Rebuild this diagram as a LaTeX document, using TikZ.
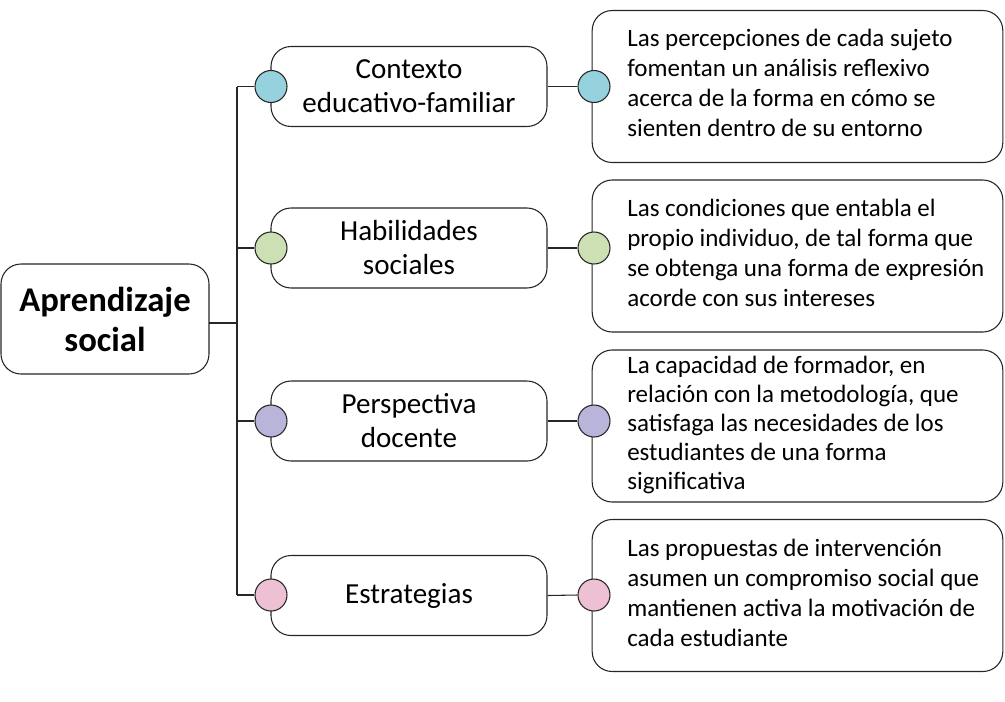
\documentclass[tikz,border=0pt]{standalone}
\usepackage{fontspec}
\setmainfont{Carlito}
\definecolor{cteal}{RGB}{150,210,221}
\definecolor{cgreen}{RGB}{205,224,180}
\definecolor{cpurple}{RGB}{184,180,218}
\definecolor{cpink}{RGB}{238,192,211}
\begin{document}
\begin{tikzpicture}[x=0.75pt,y=-0.75pt,
  box/.style={draw=black!85,line width=0.8pt,rounded corners=15pt,fill=white,inner sep=0pt},
  rootbox/.style={box,minimum width=156pt,minimum height=82.5pt,align=center,
    font=\fontsize{26}{30}\selectfont\bfseries},
  midbox/.style={box,minimum width=207pt,minimum height=60pt,align=center,
    font=\fontsize{21.8}{25.5}\selectfont},
  descbox/.style={box,minimum width=308pt,minimum height=114pt},
  desctext/.style={anchor=west,align=left,inner sep=0pt,font=\fontsize{18.75}{22.5}\selectfont},
  dot/.style={circle,draw=black!85,line width=0.8pt,minimum size=24pt,inner sep=0pt},
  link/.style={draw=black!85,line width=0.8pt}]
\useasboundingbox (0,0) rectangle (1005,701);

% root
\node[rootbox] (root) at (105,319) {Aprendizaje\\social};
\coordinate (rootout) at (209,323);
\coordinate (jn) at (237,323);
\coordinate (t1) at (237,87);
\coordinate (t4) at (237,595);
\draw[link] (rootout) -- (jn);
\draw[link] (t1) -- (t4);

% middle boxes
\node[midbox] (m1) at (409,86.5) {Contexto\\educativo-familiar};
\node[midbox] (m2) at (409,248) {Habilidades\\sociales};
\node[midbox] (m3) at (409,421) {Perspectiva\\docente};
\node[midbox] (m4) at (409,595.5) {\raisebox{2.5pt}{Estrategias}};

% right boxes
\node[descbox] (d1) at (797.5,86.5) {};
\node[descbox] (d2) at (797.5,256) {};
\node[descbox] (d3) at (797.5,426) {};
\node[descbox] (d4) at (797.5,595.5) {};

\node[desctext] (x1) at (627,83) {Las percepciones de cada sujeto\\fomentan un análisis reflexivo\\acerca de la forma en cómo se\\sienten dentro de su entorno};
\node[desctext] (x2) at (627,253) {Las condiciones que entabla el\\propio individuo, de tal forma que\\se obtenga una forma de expresión\\acorde con sus intereses};
\node[desctext,font=\fontsize{18.75}{21.6}\selectfont] (x3) at (627,425) {La capacidad de formador, en\\relación con la metodología, que\\satisfaga las necesidades de los\\estudiantes de una forma\\significativa};
\node[desctext] (x4) at (627,593) {Las propuestas de intervención\\asumen un compromiso social que\\mantienen activa la motivación de\\cada estudiante};

% left dots
\node[dot,fill=cteal] (l1) at (271,86.5) {};
\node[dot,fill=cgreen] (l2) at (271,248) {};
\node[dot,fill=cpurple] (l3) at (271,421) {};
\node[dot,fill=cpink] (l4) at (271,595) {};

% right dots
\node[dot,fill=cteal] (r1) at (594,86.5) {};
\node[dot,fill=cgreen] (r2) at (594,248) {};
\node[dot,fill=cpurple] (r3) at (594,421) {};
\node[dot,fill=cpink] (r4) at (594,595) {};

% connectors
\foreach \i in {1,...,4}{
  \draw[link] (t1 |- l\i) -- (l\i.west);
  \draw[link] (m\i.east) -- (r\i.west);
}
\end{tikzpicture}
\end{document}
